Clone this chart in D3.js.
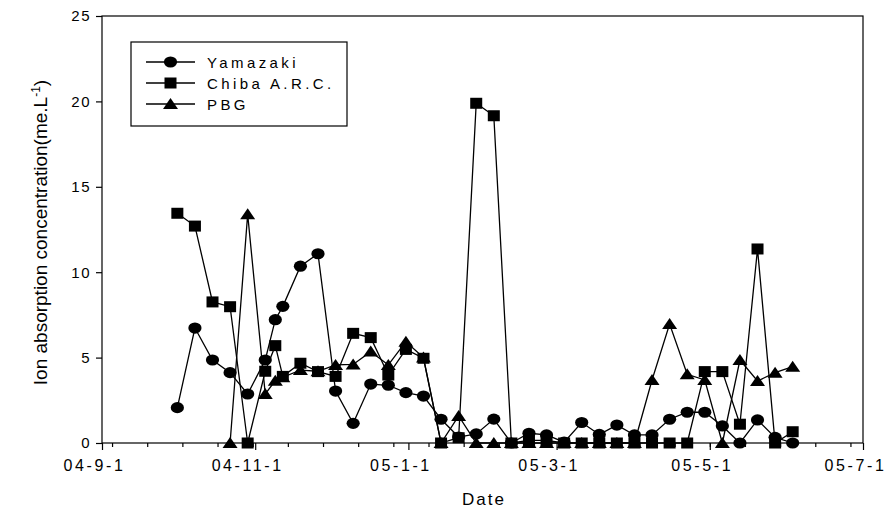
<!DOCTYPE html>
<html>
<head>
<meta charset="utf-8">
<script src="https://cdn.jsdelivr.net/npm/d3@7"></script>
<style>
  body { margin: 0; background: #fff; }
  text { font-family: "Liberation Sans", Arial, sans-serif; fill: #000; }
</style>
</head>
<body>
<svg id="chart" width="890" height="516"></svg>
<script>
// Sampling dates (weekly, from 2004-10-01 to 2005-06-03)
const sampleDates = [
  "2004-10-01", "2004-10-08", "2004-10-15", "2004-10-22", "2004-10-29",
  "2004-11-05", "2004-11-09", "2004-11-12", "2004-11-19", "2004-11-26",
  "2004-12-03", "2004-12-10", "2004-12-17", "2004-12-24", "2004-12-31",
  "2005-01-07", "2005-01-14", "2005-01-21", "2005-01-28", "2005-02-04",
  "2005-02-11", "2005-02-18", "2005-02-25", "2005-03-04", "2005-03-11",
  "2005-03-18", "2005-03-25", "2005-04-01", "2005-04-08", "2005-04-15",
  "2005-04-22", "2005-04-29", "2005-05-06", "2005-05-13", "2005-05-20",
  "2005-05-27", "2005-06-03"
];

// Ion absorption concentration (me.L-1) per site
const yamazaki = [
  2.07, 6.73, 4.86, 4.12, 2.87,
  4.86, 7.22, 8.0, 10.35, 11.08,
  3.04, 1.15, 3.45, 3.38, 2.95,
  2.75, 1.39, 0.35, 0.53, 1.4,
  0.0, 0.57, 0.47, 0.05, 1.2,
  0.5, 1.05, 0.47, 0.47, 1.39,
  1.8, 1.8, 1.0, 0.0, 1.35,
  0.33, 0.0
];
const chiba = [
  13.45, 12.7, 8.26, 7.98, 0.0,
  4.2, 5.7, 3.9, 4.67, 4.18,
  3.9, 6.42, 6.17, 3.98, 5.48,
  4.96, 0.0, 0.31, 19.89, 19.16,
  0.0, 0.15, 0.15, 0.0, 0.0,
  0.0, 0.0, 0.0, 0.0, 0.0,
  0.0, 4.18, 4.18, 1.1, 11.36,
  0.0, 0.66
];
// PBG sampling began on 2004-10-22
const pbg = [
  null, null, null, 0.0, 13.39,
  2.87, 3.65, 3.85, 4.27, 4.2,
  4.57, 4.6, 5.35, 4.57, 5.93,
  5.0, 0.0, 1.58, 0.0, 0.0,
  0.0, 0.0, 0.0, 0.0, 0.0,
  0.0, 0.0, 0.0, 3.69, 6.97,
  4.02, 3.69, 0.0, 4.86, 3.63,
  4.12, 4.47
];

const seriesNames = ["Yamazaki", "Chiba A.R.C.", "PBG"];
const seriesShapes = ["circle", "square", "triangle"];

const yTickValues = [0, 5, 10, 15, 20, 25];
const xMajorTickDates = ["2004-09-01", "2004-11-01", "2005-01-01", "2005-03-01", "2005-05-01", "2005-07-01"];
const xMinorStart = "2004-09-05";

const xTitle = "Date";
const yTitle = "Ion absorption concentration(me.L";

// ---- layout ----
const plot = { left: 102, right: 863, top: 16, bottom: 443 };
const parse = d3.utcParse("%Y-%m-%d");
const fmt = d3.utcFormat("%y-%-m-%-d");

const svg = d3.select("#chart");

const x = d3.scaleUtc()
  .domain([parse(xMajorTickDates[0]), parse(xMajorTickDates[xMajorTickDates.length - 1])])
  .range([plot.left, plot.right]);
const y = d3.scaleLinear().domain([0, 25]).range([plot.bottom, plot.top]);

// frame
svg.append("rect")
  .attr("x", plot.left).attr("y", plot.top)
  .attr("width", plot.right - plot.left).attr("height", plot.bottom - plot.top)
  .attr("fill", "none").attr("stroke", "#000").attr("stroke-width", 1.2);

// y axis
const yAxis = d3.axisLeft(y).tickValues(yTickValues).tickSize(6).tickPadding(5).tickFormat(d3.format("d"));
const gy = svg.append("g").attr("transform", `translate(${plot.left},0)`).call(yAxis);
gy.select(".domain").remove();
gy.selectAll(".tick line").attr("stroke", "#000").attr("stroke-width", 1.2);
gy.selectAll(".tick text")
  .style("font-family", "'Liberation Sans', Arial, sans-serif")
  .style("font-size", "15px").style("letter-spacing", "1.5px").attr("fill", "#000");

// x axis: minor ticks every two weeks, major ticks every two months
const minorTicks = d3.utcDay.range(parse(xMinorStart), x.domain()[1], 14);
const xMinor = d3.axisBottom(x).tickValues(minorTicks).tickSize(4).tickFormat("");
const gxm = svg.append("g").attr("transform", `translate(0,${plot.bottom})`).call(xMinor);
gxm.select(".domain").remove();
gxm.selectAll(".tick line").attr("stroke", "#000").attr("stroke-width", 1.2);

const xMajor = d3.axisBottom(x).tickValues(xMajorTickDates.map(parse)).tickSize(7).tickPadding(10).tickFormat(fmt);
const gx = svg.append("g").attr("transform", `translate(0,${plot.bottom})`).call(xMajor);
gx.select(".domain").remove();
gx.selectAll(".tick line").attr("stroke", "#000").attr("stroke-width", 1.2);
gx.selectAll(".tick text")
  .attr("dx", -8)
  .style("font-family", "'Liberation Sans', Arial, sans-serif")
  .style("font-size", "16px").style("letter-spacing", "2.6px").attr("fill", "#000");

// axis titles
svg.append("text")
  .attr("x", 484).attr("y", 505)
  .attr("text-anchor", "middle")
  .style("font-size", "17px").style("letter-spacing", "2px")
  .text(xTitle);

const yt = svg.append("text")
  .attr("transform", `translate(47,${(plot.top + plot.bottom) / 2 + 3}) rotate(-90)`)
  .attr("text-anchor", "middle")
  .style("font-size", "19px");
yt.append("tspan").text(yTitle);
yt.append("tspan").attr("dy", -7).style("font-size", "12px").text("-1");
yt.append("tspan").attr("dy", 7).text(")");

// marker drawing
function drawMarker(g, shape, cx, cy) {
  if (shape === "circle") {
    g.append("ellipse").attr("cx", cx).attr("cy", cy).attr("rx", 6.6).attr("ry", 5.6).attr("fill", "#000");
  } else if (shape === "square") {
    g.append("rect").attr("x", cx - 6).attr("y", cy - 5.5).attr("width", 12).attr("height", 11).attr("fill", "#000");
  } else {
    g.append("path")
      .attr("d", `M${cx},${cy - 6} L${cx + 7.5},${cy + 5} L${cx - 7.5},${cy + 5} Z`)
      .attr("fill", "#000");
  }
}

const seriesValues = [yamazaki, chiba, pbg];
const line = d3.line().x(d => x(d.t)).y(d => y(d.v));

seriesValues.forEach((vals, i) => {
  const pts = sampleDates.map((s, k) => ({ t: parse(s), v: vals[k] })).filter(d => d.v != null);
  const g = svg.append("g").attr("class", "series");
  g.append("path").datum(pts)
    .attr("d", line).attr("fill", "none").attr("stroke", "#000").attr("stroke-width", 1.3);
  pts.forEach(d => drawMarker(g, seriesShapes[i], x(d.t), y(d.v)));
});

// legend
const lg = svg.append("g");
lg.append("rect").attr("x", 131).attr("y", 42).attr("width", 216).attr("height", 84)
  .attr("fill", "#fff").attr("stroke", "#000").attr("stroke-width", 1.2);
seriesNames.forEach((name, i) => {
  const ly = 62 + i * 21;
  lg.append("line").attr("x1", 146).attr("x2", 195).attr("y1", ly).attr("y2", ly)
    .attr("stroke", "#000").attr("stroke-width", 1.3);
  drawMarker(lg, seriesShapes[i], 170.5, ly);
  lg.append("text").attr("x", 207).attr("y", ly + 5.5)
    .style("font-size", "15px").style("letter-spacing", "3.4px").text(name);
});
</script>
</body>
</html>
